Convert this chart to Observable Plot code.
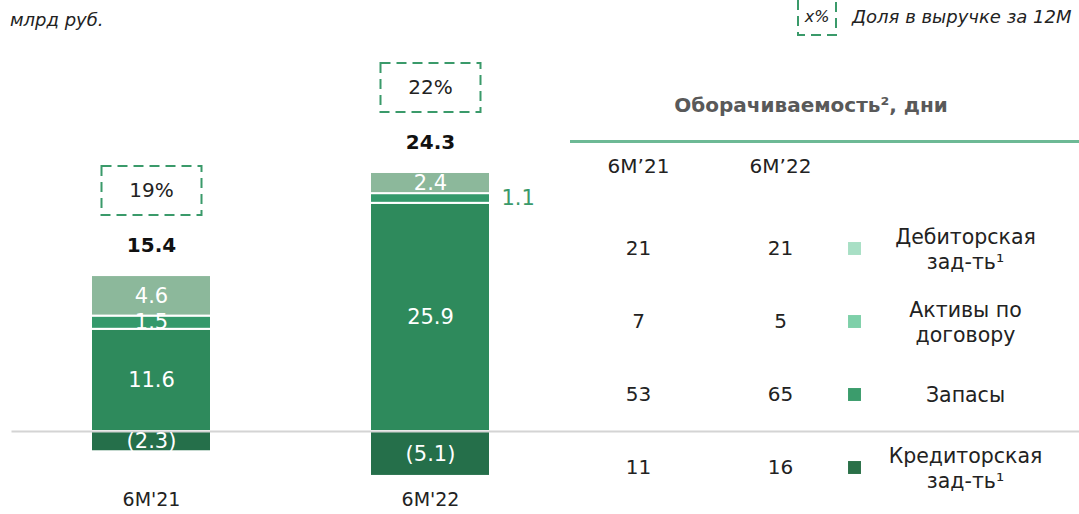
<!DOCTYPE html>
<html><head><meta charset="utf-8">
<script src="https://cdn.jsdelivr.net/npm/d3@7"></script>
<script src="https://cdn.jsdelivr.net/npm/@observablehq/plot@0.6"></script>
<style>
body{margin:0;background:#fff;font-family:"DejaVu Sans",sans-serif;}
#wrap{position:relative;width:1079px;height:514px;overflow:hidden;background:#fff;}
#wrap > *{position:absolute;}
.it{font-style:italic;color:#222;white-space:nowrap;}
</style></head><body>
<div id="wrap">
  <div id="bars" style="left:0;top:0"></div>
  <div id="table" style="left:570px;top:0"></div>
  <div class="it" style="left:10px;top:9px;font-size:18px">млрд руб.</div>
  <svg style="left:796px;top:-10px" width="42" height="48"><rect x="2" y="2" width="38" height="43" fill="none" stroke="#3a9a6a" stroke-width="2" stroke-dasharray="10,6"/></svg>
  <div class="it" style="left:797px;top:7px;width:40px;text-align:center;font-size:16px">x%</div>
  <div class="it" style="left:852px;top:6px;font-size:18px">Доля в выручке за 12М</div>
</div>
<script>
const FONT = "'DejaVu Sans', sans-serif";

// data
const periods = ["6M'21", "6M'22"];
const components = ["Запасы", "Активы по договору", "Дебиторская зад-ть", "Кредиторская зад-ть"];
const inventories = [11.6, 25.9];
const contractAssets = [1.5, 1.1];
const receivables = [4.6, 2.4];
const payables = [-2.3, -5.1];
const totals = [15.4, 24.3];
const revenueShare = [19, 22];

const turnoverTitle = "Оборачиваемость², дни";
const tableHeaders = ["6M’21", "6M’22"];
const turnoverRows = ["Дебиторская\nзад-ть¹", "Активы по\nдоговору", "Запасы", "Кредиторская\nзад-ть¹"];
const turnover21 = [21, 7, 53, 11];
const turnover22 = [21, 5, 65, 16];

// styles
const barColors = ["#2e8a5c", "#34996b", "#8cb89b", "#256f4a"];
const legendColors = ["#a8dfc5", "#7ed0a9", "#3b9c6c", "#2a7048"];
const accent = "#3a9a6a";

const seriesValues = [inventories, contractAssets, receivables, payables];
const rows = periods.flatMap((p, i) => components.map((c, j) => ({period: p, component: c, value: seriesValues[j][i]})));
const summary = periods.map((p, i) => ({
  period: p, total: totals[i], share: revenueShare[i],
  top: rows.filter(r => r.period === p && r.value > 0).reduce((s, r) => s + r.value, 0)
}));
const fmt = v => v < 0 ? `(${Math.abs(v).toFixed(1)})` : v.toFixed(1);
const inside = d => Math.abs(d.value) >= 1.2;
const boxSymbol = {draw(ctx) { ctx.moveTo(-50, -24.5); ctx.lineTo(50, -24.5); ctx.lineTo(50, 24.5); ctx.lineTo(-50, 24.5); ctx.closePath(); }};
const k = 8.81;

const bars = Plot.plot({
  width: 1079, height: 514,
  marginLeft: 11.5, marginRight: 0, marginTop: 0, marginBottom: 25,
  x: {domain: periods, range: [11.5, 569.5], paddingInner: 0.57, paddingOuter: 0.285, label: null},
  y: {domain: [0, 30], range: [431, 431 - 30 * k], axis: null},
  color: {domain: components, range: barColors},
  style: {fontFamily: FONT, background: "transparent", color: "#222"},
  marks: [
    Plot.barY(rows, Plot.stackY({x: "period", y: "value", fill: "component", stroke: "white", strokeWidth: 2})),
    Plot.ruleY([0], {stroke: "#d4d4d4", strokeWidth: 2}),
    Plot.text(rows, Plot.stackY({x: "period", y: "value", z: "component", text: d => inside(d) ? fmt(d.value) : "", fill: "white", fontSize: 21})),
    Plot.text(rows, Plot.stackY({x: "period", y: "value", z: "component", text: d => inside(d) ? "" : fmt(d.value), fill: accent, fontSize: 21, textAnchor: "start", dx: 71})),
    Plot.text(summary, {x: "period", y: "top", text: d => d.total.toFixed(1), dy: -30, fontWeight: "bold", fontSize: 20, fill: "#111"}),
    Plot.dot(summary, {x: "period", y: "top", dy: -85, symbol: boxSymbol, r: 1, stroke: accent, strokeWidth: 2, strokeDasharray: "10,6", fill: "none"}),
    Plot.text(summary, {x: "period", y: "top", dy: -85, text: d => d.share + "%", fontSize: 20, fill: "#222"}),
    Plot.axisX({tickSize: 0, tickPadding: 3, fontSize: 19, label: null})
  ]
});
document.getElementById("bars").append(bars);

const tableRows = turnoverRows.map((name, i) => ({name, v21: turnover21[i], v22: turnover22[i]}));
const table = Plot.plot({
  width: 509, height: 514,
  marginTop: 141, marginLeft: 0, marginRight: 0, marginBottom: 0,
  x: {type: "point", domain: [...tableHeaders, "legend"], range: [68, 352], padding: 0, axis: null},
  y: {type: "point", domain: turnoverRows, range: [247, 467], padding: 0, axis: null},
  color: {domain: turnoverRows, range: legendColors},
  style: {fontFamily: FONT, background: "transparent", color: "#222"},
  marks: [
    Plot.frame({anchor: "top", stroke: "#6db995", strokeWidth: 3}),
    Plot.text([turnoverTitle], {text: d => d, frameAnchor: "top", lineAnchor: "middle", dy: -36, dx: -14, fontWeight: "bold", fontSize: 20, fill: "#595959"}),
    Plot.text(tableHeaders, {x: d => d, text: d => d, frameAnchor: "top", lineAnchor: "middle", dy: 25, fontSize: 20, fill: "#222"}),
    Plot.text(tableRows, {x: () => tableHeaders[0], y: "name", text: "v21", fontSize: 20, fill: "#222"}),
    Plot.text(tableRows, {x: () => tableHeaders[1], y: "name", text: "v22", fontSize: 20, fill: "#222"}),
    Plot.dot(tableRows, {x: () => "legend", y: "name", dx: -68, symbol: "square", r: 7.3, fill: "name"}),
    Plot.text(tableRows, {x: () => "legend", y: "name", dx: 43, text: "name", fontSize: 20.5, lineHeight: 1.2, fill: "#222"})
  ]
});
document.getElementById("table").append(table);
</script>
</body></html>
